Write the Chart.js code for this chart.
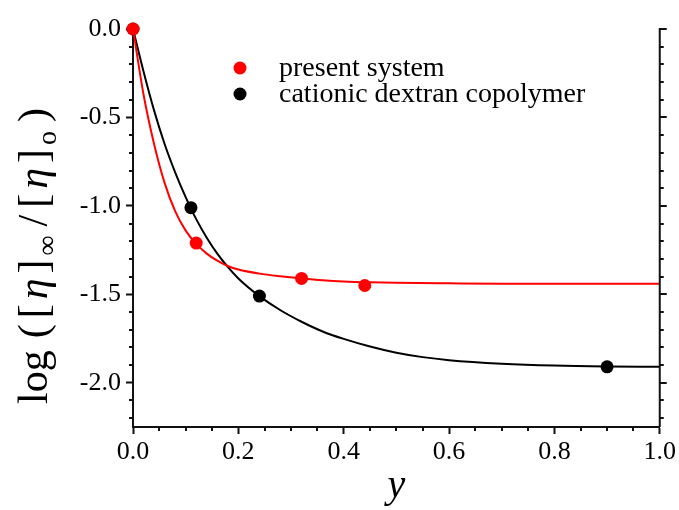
<!DOCTYPE html>
<html>
<head>
<meta charset="utf-8">
<script src="https://cdn.jsdelivr.net/npm/chart.js@4.4.0/dist/chart.umd.min.js"></script>
<style>
  html, body { margin: 0; padding: 0; background: #fff; }
  canvas { display: block; }
</style>
</head>
<body>
<canvas id="chart" width="679" height="510"></canvas>
<script>
// ====== Data ======
const X_TICKS = [0, 0.2, 0.4, 0.6, 0.8, 1.0];
const Y_TICKS = [0, -0.5, -1.0, -1.5, -2.0];

const presentX = [0, 0.12, 0.32, 0.44];
const presentY = [0, -1.21, -1.41, -1.45];
const cationicX = [0, 0.11, 0.24, 0.90];
const cationicY = [0, -1.01, -1.51, -1.91];

// fitted curves
const presentFitX = [0, 0.02, 0.04, 0.06, 0.08, 0.10, 0.12, 0.14, 0.16, 0.18, 0.20, 0.24, 0.28, 0.32, 0.36, 0.40, 0.45, 0.50, 0.60, 0.70, 0.80, 1.00];
const presentFitY = [0, -0.37, -0.65, -0.87, -1.03, -1.14, -1.215, -1.27, -1.31, -1.34, -1.36, -1.383, -1.398, -1.41, -1.42, -1.427, -1.432, -1.435, -1.438, -1.44, -1.44, -1.44];
const cationicFitX = [0, 0.02, 0.04, 0.06, 0.08, 0.10, 0.12, 0.14, 0.16, 0.18, 0.20, 0.24, 0.28, 0.32, 0.36, 0.40, 0.45, 0.50, 0.55, 0.60, 0.70, 0.80, 0.90, 1.00];
const cationicFitY = [0, -0.24, -0.46, -0.65, -0.81, -0.95, -1.075, -1.18, -1.27, -1.345, -1.41, -1.51, -1.59, -1.655, -1.71, -1.752, -1.795, -1.83, -1.855, -1.872, -1.892, -1.903, -1.908, -1.91];

const LEGEND = ["present system", "cationic dextran copolymer"];

const pts = (xs, ys) => xs.map((x, i) => ({ x: x, y: ys[i] }));
const FONT = "'Liberation Serif', 'Times New Roman', serif";
const INK = "#111";

// ====== Extra axis bits: minor ticks, right axis, titles, legend ======
const decorations = {
  id: "decorations",
  afterDraw(chart) {
    const c = chart.ctx;
    const xs = chart.scales.x, ys = chart.scales.y;
    const a = chart.chartArea;
    c.save();
    c.strokeStyle = INK;
    c.lineWidth = 2;

    // right axis line
    c.beginPath();
    c.moveTo(a.right, a.top - 1);
    c.lineTo(a.right, a.bottom);
    c.stroke();

    // y ticks (left minor + right all)
    for (let k = 0; k <= 22; k++) {
      const v = -k / 10;
      const major = Math.abs(v * 2 - Math.round(v * 2)) < 1e-6;
      const py = Math.round(ys.getPixelForValue(v));
      const len = major ? 7 : 4;
      c.beginPath();
      c.moveTo(a.right, py); c.lineTo(a.right + len, py);
      if (!major) { c.moveTo(a.left, py); c.lineTo(a.left - len, py); }
      c.stroke();
    }
    // x minor ticks
    for (let k = 1; k < 20; k++) {
      if (k % 4 === 0) continue;
      const px = Math.round(xs.getPixelForValue(k * 0.05));
      c.beginPath();
      c.moveTo(px, a.bottom); c.lineTo(px, a.bottom + 4);
      c.stroke();
    }

    // y axis title: log ([η]∞/[η]o)
    c.translate(47, 256);
    c.rotate(-Math.PI / 2);
    const big = "42px " + FONT, ital = "italic 42px " + FONT, sub = "28px " + FONT;
    // [text, font, baseline shift, gap after]
    const parts = [
      ["log", big, 0, 12], ["(", big, 0, 6], ["[", big, 0, 5], ["\u03B7", ital, 0, 5], ["]", big, 0, 4],
      ["\u221E", sub, 9, 9], ["/", big, 0, 7], ["[", big, 0, 5], ["\u03B7", ital, 0, 5], ["]", big, 0, 4],
      ["o", sub, 9, 9], [")", big, 0, 0]
    ];
    let total = 0;
    parts.forEach(p => { c.font = p[1]; total += c.measureText(p[0]).width + p[3]; });
    let cx = -total / 2;
    c.fillStyle = "#000";
    c.textBaseline = "alphabetic";
    parts.forEach(p => {
      c.font = p[1];
      c.fillText(p[0], cx, p[2]);
      cx += c.measureText(p[0]).width + p[3];
    });
    c.restore();

    // legend
    c.save();
    const colors = ["#ff0000", "#000000"];
    c.font = "28px " + FONT;
    c.textBaseline = "middle";
    LEGEND.forEach((t, i) => {
      const y = 68 + i * 26;
      c.beginPath();
      c.arc(240, y, 6.5, 0, Math.PI * 2);
      c.fillStyle = colors[i];
      c.fill();
      c.fillStyle = "#000";
      c.fillText(t, 279, y + 1);
    });
    c.restore();
  }
};

// ====== Chart ======
const ctx = document.getElementById("chart").getContext("2d");
new Chart(ctx, {
  type: "scatter",
  data: {
    datasets: [
      { data: pts(presentX, presentY), backgroundColor: "#ff0000", borderColor: "#ff0000",
        pointRadius: 6.5, pointBorderWidth: 0, showLine: false, clip: false, order: 0 },
      { data: pts(cationicX, cationicY), backgroundColor: "#000000", borderColor: "#000000",
        pointRadius: 6.5, pointBorderWidth: 0, showLine: false, clip: false, order: 1 },
      { data: pts(presentFitX, presentFitY), borderColor: "#ff0000", borderWidth: 2,
        pointRadius: 0, showLine: true, cubicInterpolationMode: "monotone", order: 2 },
      { data: pts(cationicFitX, cationicFitY), borderColor: "#000000", borderWidth: 2,
        pointRadius: 0, showLine: true, cubicInterpolationMode: "monotone", order: 3 }
    ]
  },
  options: {
    responsive: false,
    animation: false,
    devicePixelRatio: 1,
    layout: { padding: { top: 29, right: 19, left: 0, bottom: 0 } },
    plugins: { legend: { display: false }, tooltip: { enabled: false } },
    scales: {
      x: {
        type: "linear", min: 0, max: 1,
        afterBuildTicks: s => { s.ticks = X_TICKS.map(v => ({ value: v })); },
        afterFit: s => { s.height = 83; },
        grid: { drawOnChartArea: false, drawTicks: true, tickLength: 7, tickColor: INK, tickWidth: 2 },
        border: { display: true, color: INK, width: 2 },
        ticks: { color: "#000", font: { family: FONT, size: 26 }, padding: 3,
                 maxRotation: 0, callback: v => Number(v).toFixed(1) },
        title: { display: true, text: "y", color: "#000", padding: { top: 0, bottom: 0 },
                 font: { family: FONT, size: 40, style: "italic" } }
      },
      y: {
        type: "linear", min: -2.25, max: 0,
        afterBuildTicks: s => { s.ticks = Y_TICKS.map(v => ({ value: v })); },
        afterFit: s => { s.width = 133; },
        grid: { drawOnChartArea: false, drawTicks: true, tickLength: 7, tickColor: INK, tickWidth: 2 },
        border: { display: true, color: INK, width: 2 },
        ticks: { color: "#000", font: { family: FONT, size: 26 }, padding: 5,
                 callback: v => Number(v).toFixed(1) }
      }
    }
  },
  plugins: [decorations]
});
</script>
</body>
</html>
